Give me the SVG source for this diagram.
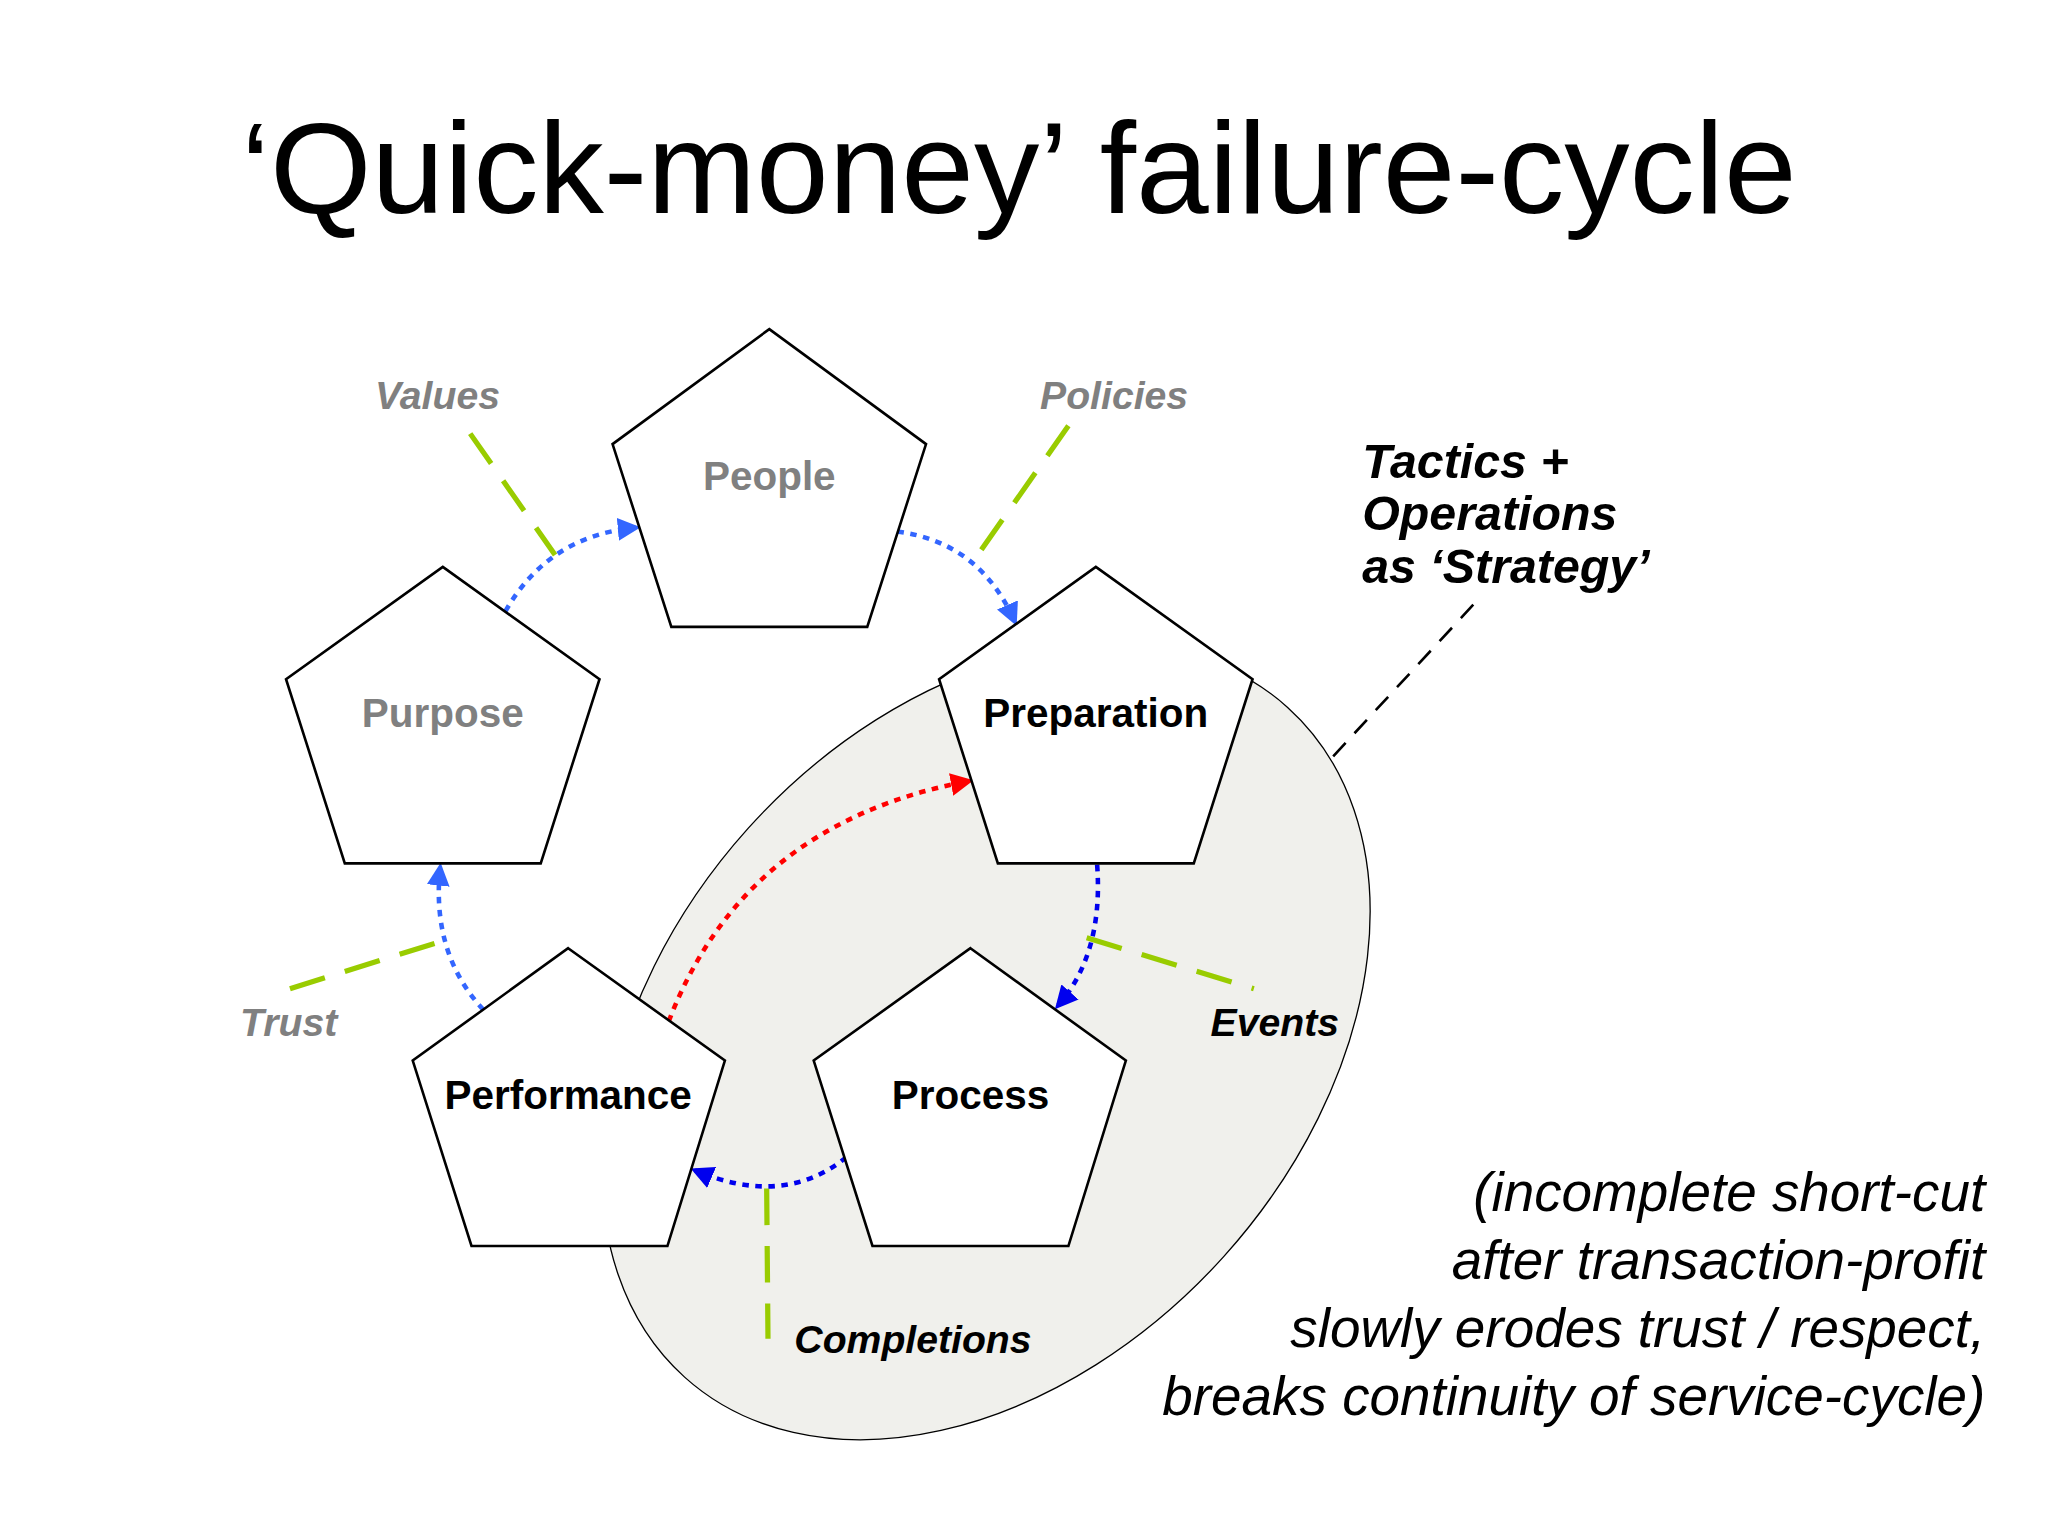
<svg xmlns="http://www.w3.org/2000/svg" width="2048" height="1536" viewBox="0 0 2048 1536">
<defs>
<style>
.pent{fill:#fff;stroke:#000;stroke-width:2}
.nl{font-family:"Liberation Sans",Arial,sans-serif;font-weight:bold;font-size:31px;text-anchor:middle}
.gl{font-family:"Liberation Sans",Arial,sans-serif;font-weight:bold;font-style:italic;font-size:30px;text-anchor:middle}
.gd{stroke:#99cc00;stroke-width:4;stroke-dasharray:28 16;fill:none}
.bd{stroke-width:3.5;stroke-dasharray:5 5;fill:none}
</style>
<marker id="ab" viewBox="0 0 10 10" refX="8" refY="5" markerWidth="5" markerHeight="5" orient="auto"><path d="M0,0L10,5L0,10z" fill="#3366ff"/></marker>
<marker id="ad" viewBox="0 0 10 10" refX="8" refY="5" markerWidth="5" markerHeight="5" orient="auto"><path d="M0,0L10,5L0,10z" fill="#0000ee"/></marker>
<marker id="ar" viewBox="0 0 10 10" refX="8" refY="5" markerWidth="5" markerHeight="5" orient="auto"><path d="M0,0L10,5L0,10z" fill="#ff0000"/></marker>
</defs>
<rect width="2048" height="1536" fill="#fff"/>
<g transform="scale(1.3061)">
<text x="780" y="163" font-family="Liberation Sans,Arial,sans-serif" font-size="100" text-anchor="middle">‘Quick-money’ failure-cycle</text>
<ellipse cx="755" cy="798" rx="345" ry="245" transform="rotate(-48 755 798)" fill="#f0f0ec" stroke="#000" stroke-width="1"/>
<g id="connectors">
<path class="gd" d="M360,332L425,425"/>
<path class="gd" d="M818,326L745,430"/>
<path class="gd" d="M222,757L340,720"/>
<path class="gd" d="M832,718L960,757"/>
<path class="gd" d="M587,910L588,1025"/>
<path d="M1128,463L1018,582" stroke="#000" stroke-width="2" stroke-dasharray="14 10" fill="none"/>
<path class="bd" stroke="#3366ff" d="M387,468Q420,410 487,404" marker-end="url(#ab)"/>
<path class="bd" stroke="#3366ff" d="M687,407Q750,415 777,476" marker-end="url(#ab)"/>
<path class="bd" stroke="#0000ee" d="M840,662Q845,730 810,770" marker-end="url(#ad)"/>
<path class="bd" stroke="#0000ee" d="M648,886Q600,925 532,896" marker-end="url(#ad)"/>
<path class="bd" stroke="#3366ff" d="M370,773Q330,730 337,664" marker-end="url(#ab)"/>
<path class="bd" stroke="#ff0000" d="M512,782Q570,630 742,598" marker-end="url(#ar)"/>
</g>
<g id="people"><polygon class="pent" points="589,252 709,340 664,480 514,480 469,340"/><text class="nl" x="589" y="375" fill="#808080">People</text></g>
<g id="purpose"><polygon class="pent" points="339,434 459,520 414,661 264,661 219,520"/><text class="nl" x="339" y="557" fill="#808080">Purpose</text></g>
<g id="preparation"><polygon class="pent" points="839,434 959,520 914,661 764,661 719,520"/><text class="nl" x="839" y="557">Preparation</text></g>
<g id="performance"><polygon class="pent" points="435,726 555,812 511,954 361,954 316,812"/><text class="nl" x="435" y="849">Performance</text></g>
<g id="process"><polygon class="pent" points="743,726 862,812 818,954 668,954 623,812"/><text class="nl" x="743" y="849">Process</text></g>
<text class="gl" x="335" y="313" fill="#808080">Values</text>
<text class="gl" x="853" y="313" fill="#808080">Policies</text>
<text class="gl" x="221" y="793" fill="#808080">Trust</text>
<text class="gl" x="976" y="793">Events</text>
<text class="gl" x="699" y="1036">Completions</text>
<g font-family="Liberation Sans,Arial,sans-serif" font-weight="bold" font-style="italic" font-size="37">
<text x="1043" y="366">Tactics +</text><text x="1043" y="406">Operations</text><text x="1043" y="446">as ‘Strategy’</text>
</g>
<g font-family="Liberation Sans,Arial,sans-serif" font-style="italic" font-size="42" text-anchor="end">
<text x="1520" y="927">(incomplete short-cut</text><text x="1520" y="979">after transaction-profit</text><text x="1520" y="1031">slowly erodes trust / respect,</text><text x="1520" y="1083">breaks continuity of service-cycle)</text>
</g>
</g>
</svg>
